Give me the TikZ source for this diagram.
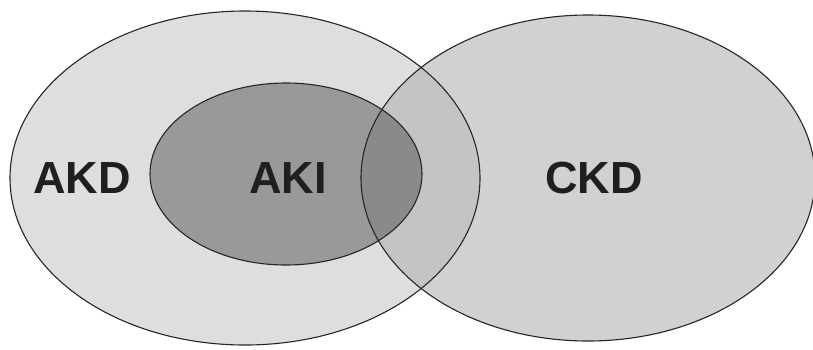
\documentclass[tikz,border=0pt]{standalone}
\usepackage{fontspec}
\setmainfont{Liberation Sans}
\usetikzlibrary{positioning, shapes.geometric}

\begin{document}
\begin{tikzpicture}[
    x=1pt, y=-1pt,
    region/.style={draw=black!85, line width=1.1pt},
    lbl/.style={font=\fontsize{45}{45}\selectfont\bfseries, text=black!88},
]
\useasboundingbox (0,0) rectangle (813,349);
\fill[white] (0,0) rectangle (813,349);
% === Outer sets ===
\fill[black!13] (245,178) ellipse [x radius=235, y radius=167];
\fill[black!18] (588,178) ellipse [x radius=227, y radius=163];
\begin{scope}
  \clip (245,178) ellipse [x radius=235, y radius=167];
  \fill[black!23] (588,178) ellipse [x radius=227, y radius=163];
\end{scope}
% === AKI inside AKD, darker where it meets CKD ===
\fill[black!40] (286,174) ellipse [x radius=136, y radius=91];
\begin{scope}
  \clip (588,178) ellipse [x radius=227, y radius=163];
  \fill[black!46] (286,174) ellipse [x radius=136, y radius=91];
\end{scope}
% === Outlines ===
\node[region, ellipse, minimum width=470, minimum height=334, inner sep=0] (akd) at (245,178) {};
\node[region, ellipse, minimum width=454, minimum height=326, inner sep=0] (ckd) at (588,178) {};
\node[region, ellipse, minimum width=272, minimum height=182, inner sep=0] (aki) at (286,174) {};
% === Labels ===
\node[lbl] (akdlbl) at (82,178) {AKD};
\node[lbl] (akilbl) at (288,178) {AKI};
\node[lbl] (ckdlbl) at (594,178) {CKD};
\end{tikzpicture}
\end{document}
